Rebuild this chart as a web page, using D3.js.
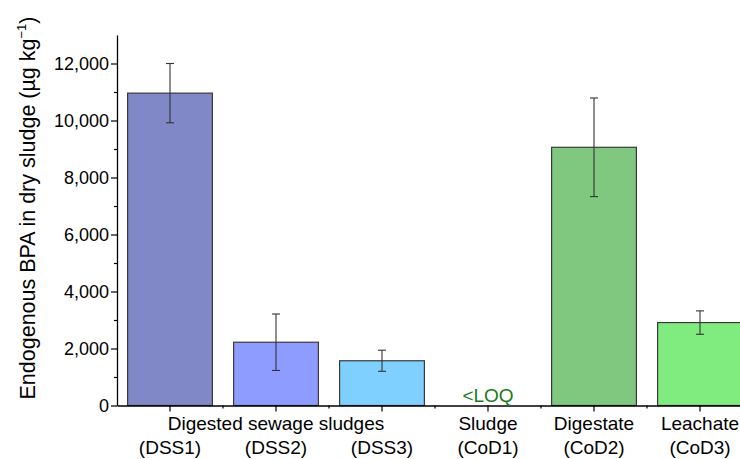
<!DOCTYPE html>
<html>
<head>
<meta charset="utf-8">
<script src="https://cdn.jsdelivr.net/npm/d3@7"></script>
<style>
html,body{margin:0;padding:0;background:#fff;}
svg{display:block;font-family:"Liberation Sans",Arial,sans-serif;}
</style>
</head>
<body>
<svg id="chart" width="740" height="459"></svg>
<script>
const categories = ["DSS1", "DSS2", "DSS3", "CoD1", "CoD2", "CoD3"];
const values = [10960, 2220, 1570, null, 9060, 2910];
const errors = [1040, 990, 370, null, 1730, 410];
const colors = ["#8088c8", "#8f9cff", "#80d0ff", "#ffffff", "#80c880", "#80ec80"];
const yTicks = [0, 2000, 4000, 6000, 8000, 10000, 12000];
const yMinorTicks = [1000, 3000, 5000, 7000, 9000, 11000];
const topLabels = [
  {text: "Digested sewage sludges", at: "DSS2"},
  {text: "Sludge", at: "CoD1"},
  {text: "Digestate", at: "CoD2"},
  {text: "Leachate", at: "CoD3"}
];
const bottomLabels = ["(DSS1)", "(DSS2)", "(DSS3)", "(CoD1)", "(CoD2)", "(CoD3)"];
const loqLabel = "<LOQ";
const yTitle = "Endogenous BPA in dry sludge (µg kg";

const svg = d3.select("#chart");
const x0 = 117, yBase = 405.5;
const x = d3.scaleBand().domain(categories).range([x0, 753]).paddingInner(0.2).paddingOuter(0.1);
const y = d3.scaleLinear().domain([0, 13000]).range([yBase, 35]);

// bars
const data = categories.map((c, i) => ({c, v: values[i], e: errors[i], col: colors[i]}));
svg.append("g").selectAll("rect").data(data.filter(d => d.v != null)).join("rect")
  .attr("x", d => x(d.c)).attr("width", x.bandwidth())
  .attr("y", d => y(d.v)).attr("height", d => y(0) - y(d.v))
  .attr("fill", d => d.col).attr("stroke", "#3a3a3a").attr("stroke-width", 1.2);

// error bars
const eg = svg.append("g").attr("stroke", "#333").attr("stroke-width", 1.1);
data.filter(d => d.v != null).forEach(d => {
  const cx = x(d.c) + x.bandwidth() / 2;
  eg.append("line").attr("x1", cx).attr("x2", cx).attr("y1", y(d.v + d.e)).attr("y2", y(d.v - d.e));
  eg.append("line").attr("x1", cx - 4).attr("x2", cx + 4).attr("y1", y(d.v + d.e)).attr("y2", y(d.v + d.e));
  eg.append("line").attr("x1", cx - 4).attr("x2", cx + 4).attr("y1", y(d.v - d.e)).attr("y2", y(d.v - d.e));
});

// y axis
const ya = svg.append("g").attr("transform", `translate(${x0},0)`)
  .call(d3.axisLeft(y).tickValues(yTicks).tickFormat(d3.format(",")).tickSize(6).tickSizeOuter(0));
ya.select(".domain").attr("stroke", "#000").attr("stroke-width", 1.3);
ya.selectAll(".tick line").attr("stroke", "#000").attr("stroke-width", 1.2);
ya.selectAll(".tick text").attr("font-size", 18).attr("fill", "#000").attr("font-family", "Liberation Sans, Arial, sans-serif").attr("x", -8);
svg.append("g").attr("transform", `translate(${x0},0)`)
  .call(d3.axisLeft(y).tickValues(yMinorTicks).tickFormat("").tickSize(3).tickSizeOuter(0))
  .call(g => g.select(".domain").remove())
  .selectAll("line").attr("stroke", "#000").attr("stroke-width", 1.2);
// x axis
const xa = svg.append("g").attr("transform", `translate(0,${yBase})`)
  .call(d3.axisBottom(x).tickFormat("").tickSize(6).tickSizeOuter(0));
xa.select(".domain").attr("stroke", "#000").attr("stroke-width", 1.3);
xa.selectAll(".tick line").attr("stroke", "#000").attr("stroke-width", 1.2);
const minorX = categories.slice(1).map(c => x(c) - x.step() * x.paddingInner() / 2);
xa.selectAll(".minor").data(minorX).join("line").attr("class", "minor")
  .attr("x1", d => d).attr("x2", d => d).attr("y1", 0).attr("y2", 3)
  .attr("stroke", "#000").attr("stroke-width", 1.2);

// category labels
const cxOf = c => x(c) + x.bandwidth() / 2;
svg.append("g").selectAll("text").data(topLabels).join("text")
  .attr("x", d => cxOf(d.at)).attr("y", 430).attr("text-anchor", "middle")
  .attr("font-size", 19).text(d => d.text);
svg.append("g").selectAll("text").data(bottomLabels).join("text")
  .attr("x", (d, i) => cxOf(categories[i])).attr("y", 454).attr("text-anchor", "middle")
  .attr("font-size", 19).text(d => d);

// LOQ
svg.append("text").attr("x", cxOf("CoD1")).attr("y", 402).attr("text-anchor", "middle")
  .attr("font-size", 19).attr("fill", "#1a7a1a").text(loqLabel);

// y title
const yt = svg.append("text").attr("transform", `translate(35,208) rotate(-90)`)
  .attr("text-anchor", "middle").attr("font-size", 21.5);
yt.append("tspan").text(yTitle);
yt.append("tspan").attr("font-size", 13).attr("dy", -9).text("−1");
yt.append("tspan").attr("dy", 9).text(")");
</script>
</body>
</html>
